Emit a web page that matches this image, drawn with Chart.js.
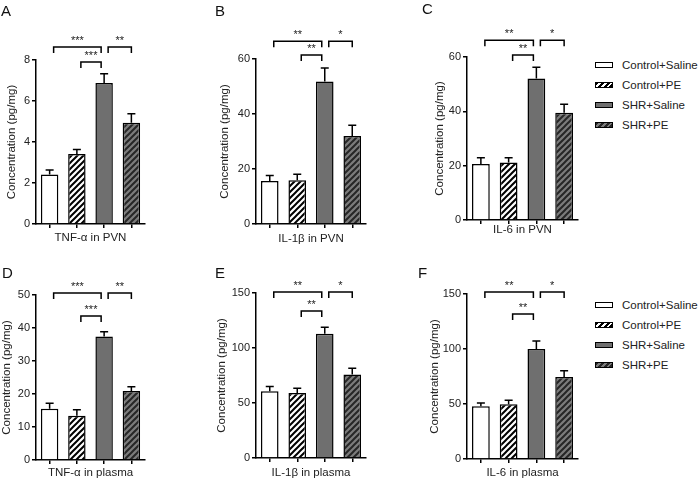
<!DOCTYPE html>
<html lang="en">
<head>
<meta charset="UTF-8">
<title>Cytokines in PVN and plasma</title>
<script src="https://cdn.jsdelivr.net/npm/chart.js"></script>
<style>
  body { margin: 0; background: #fff; font-family: 'Liberation Sans', Arial, sans-serif; }
  #wrap { position: relative; width: 700px; height: 481px; overflow: hidden; }
  #wrap canvas, .letter, .legend { position: absolute; }
  .letter { font-size: 15px; color: #111; line-height: 1; }
  .legend { font-size: 11.5px; color: #222; }
  .legend div { height: 20px; display: flex; align-items: center; }
  .legend .box { width: 18px; height: 6px; border: 1.5px solid #000; box-sizing: border-box; margin-right: 9px; }
</style>
</head>
<body>
<div id="wrap"></div>

<script>
// groups and values (mean, SEM)
const groups = ['Control+Saline', 'Control+PE', 'SHR+Saline', 'SHR+PE'];
const letters = ['A', 'B', 'C', 'D', 'E', 'F'];
const xTitles = ['TNF-α in PVN', 'IL-1β in PVN', 'IL-6 in PVN', 'TNF-α in plasma', 'IL-1β in plasma', 'IL-6 in plasma'];

const tnfPvn = [2.42, 3.41, 6.88, 4.94];
const tnfPvnSem = [0.21, 0.23, 0.45, 0.44];
const il1bPvn = [15.6, 15.9, 51.8, 32.0];
const il1bPvnSem = [2.0, 2.2, 4.9, 3.9];
const il6Pvn = [20.6, 21.2, 52.1, 39.5];
const il6PvnSem = [2.3, 1.7, 4.1, 3.1];
const tnfPlasma = [15.5, 13.4, 37.4, 20.9];
const tnfPlasmaSem = [1.7, 1.8, 1.5, 1.3];
const il1bPlasma = [60.6, 59.0, 113.0, 76.0];
const il1bPlasmaSem = [4.4, 4.3, 5.8, 5.5];
const il6Plasma = [47.9, 49.7, 100.0, 74.5];
const il6PlasmaSem = [3.0, 3.6, 7.3, 5.8];

const yMax = [8, 60, 60, 50, 150, 150];
const yStep = [2, 20, 20, 10, 50, 50];

// significance brackets: height (data units) and stars
const bracketHigh = [8.63, 66.5, 66.2, 50.6, 150.9, 151.8];
const bracketLow = [7.9, 61.5, 60.7, 43.6, 133.6, 131.8];
const starsVsControl = ['***', '**', '**', '***', '**', '**'];
const starsVsPE = ['**', '*', '*', '**', '*', '*'];

const means = [tnfPvn, il1bPvn, il6Pvn, tnfPlasma, il1bPlasma, il6Plasma];
const sems = [tnfPvnSem, il1bPvnSem, il6PvnSem, tnfPlasmaSem, il1bPlasmaSem, il6PlasmaSem];

// placement of each panel on the page
const boxes = [
  { titleX: 12, axisX: 36, right: 145, top: 60, bottom: 224, xTitleY: 238, cTop: 0 },
  { titleX: 225, axisX: 256, right: 366, top: 59, bottom: 224, xTitleY: 239, cTop: 0 },
  { titleX: 440, axisX: 467, right: 578, top: 57, bottom: 220, xTitleY: 230, cTop: 0 },
  { titleX: 7, axisX: 36, right: 145, top: 295, bottom: 460, xTitleY: 473, cTop: 248 },
  { titleX: 222, axisX: 256, right: 366, top: 293, bottom: 458, xTitleY: 473, cTop: 248 },
  { titleX: 435, axisX: 467, right: 578, top: 294, bottom: 459, xTitleY: 473, cTop: 248 }
];
const letterPos = [[1, 3], [215, 3], [422, 1], [2, 265], [215, 265], [418, 265]];

function hatch(bg, fg) {
  const c = document.createElement('canvas');
  c.width = c.height = 6;
  const g = c.getContext('2d');
  g.fillStyle = bg; g.fillRect(0, 0, 6, 6);
  g.strokeStyle = fg; g.lineWidth = 2;
  g.beginPath();
  g.moveTo(0, 6); g.lineTo(6, 0);
  g.moveTo(-1, 1); g.lineTo(1, -1);
  g.moveTo(5, 7); g.lineTo(7, 5);
  g.stroke();
  return g.createPattern(c, 'repeat');
}
const fills = ['#ffffff', hatch('#ffffff', '#000000'), '#6f6f6f', hatch('#7c7c7c', '#262626')];

// error bars (upper SEM only) and significance brackets
const annot = {
  id: 'annot',
  afterDatasetsDraw(chart, args, o) {
    const ctx = chart.ctx, x = chart.scales.x, y = chart.scales.y;
    ctx.save();
    ctx.strokeStyle = '#000';
    ctx.lineWidth = 1.5;
    o.mean.forEach((m, i) => {
      const cx = x.getPixelForValue(i);
      const y1 = y.getPixelForValue(m), y2 = y.getPixelForValue(m + o.sem[i]);
      ctx.beginPath();
      ctx.moveTo(cx, y1); ctx.lineTo(cx, y2);
      ctx.moveTo(cx - 4, y2); ctx.lineTo(cx + 4, y2);
      ctx.stroke();
    });
    ctx.fillStyle = '#222';
    ctx.font = '11px "Liberation Sans", Arial, sans-serif';
    ctx.textAlign = 'center';
    o.brackets.forEach(([i, j, h, label]) => {
      const x1 = x.getPixelForValue(i) + 4;
      const x2 = x.getPixelForValue(j) - (j === 2 ? 3 : 0);
      const yy = y.getPixelForValue(h);
      ctx.beginPath();
      ctx.moveTo(x1, yy + 6); ctx.lineTo(x1, yy); ctx.lineTo(x2, yy); ctx.lineTo(x2, yy + 6);
      ctx.stroke();
      ctx.fillText(label, (x1 + x2) / 2, yy - 3);
    });
    ctx.restore();
  }
};

const wrap = document.getElementById('wrap');

boxes.forEach((b, k) => {
  const cv = document.createElement('canvas');
  const left = b.titleX - 7;
  const height = b.xTitleY + 7 - b.cTop;
  const width = b.right - left + 10;
  cv.width = width; cv.height = height;
  cv.style.left = left + 'px'; cv.style.top = b.cTop + 'px';
  wrap.appendChild(cv);

  const axisGrid = { display: true, drawOnChartArea: false, drawTicks: true, tickLength: 4, color: '#000', lineWidth: 1.5 };

  new Chart(cv, {
    type: 'bar',
    data: {
      labels: groups,
      datasets: [{
        data: means[k],
        backgroundColor: fills,
        borderColor: '#000',
        borderWidth: 1.5,
        barPercentage: 0.64,
        categoryPercentage: 1.0
      }]
    },
    options: {
      responsive: false,
      animation: false,
      devicePixelRatio: 1,
      layout: { padding: { top: b.top - b.cTop, right: 10, left: 0, bottom: 0 } },
      plugins: {
        legend: { display: false },
        tooltip: { enabled: false },
        annot: {
          mean: means[k],
          sem: sems[k],
          brackets: [
            [0, 2, bracketHigh[k], starsVsControl[k]],
            [1, 2, bracketLow[k], starsVsControl[k]],
            [2, 3, bracketHigh[k], starsVsPE[k]]
          ]
        }
      },
      scales: {
        x: {
          grid: Object.assign({ offset: false }, axisGrid),
          border: { color: '#000', width: 1.5 },
          ticks: { display: false },
          title: {
            display: true, text: xTitles[k], color: '#222', padding: 0,
            font: { family: '"Liberation Sans", Arial, sans-serif', size: 11.5 }
          },
          afterFit(s) { s.height = b.xTitleY + 7 - b.bottom; }
        },
        y: {
          min: 0, max: yMax[k],
          grid: axisGrid,
          border: { color: '#000', width: 1.5 },
          ticks: {
            stepSize: yStep[k], color: '#222', padding: 2,
            font: { family: '"Liberation Sans", Arial, sans-serif', size: 11 }
          },
          title: {
            display: true, text: 'Concentration (pg/mg)', color: '#222', padding: 0,
            font: { family: '"Liberation Sans", Arial, sans-serif', size: 11.5 }
          },
          afterFit(s) { s.width = b.axisX - left; }
        }
      }
    },
    plugins: [annot]
  });

  const L = document.createElement('div');
  L.className = 'letter';
  L.textContent = letters[k];
  L.style.left = letterPos[k][0] + 'px';
  L.style.top = letterPos[k][1] + 'px';
  wrap.appendChild(L);
});

// legends beside panels C and F
const legendBg = [
  '#fff',
  'repeating-linear-gradient(135deg, #000 0 2px, #fff 2px 4px)',
  '#6f6f6f',
  'repeating-linear-gradient(135deg, #262626 0 2px, #7c7c7c 2px 4px)'
];
[55, 295].forEach(top => {
  const lg = document.createElement('div');
  lg.className = 'legend';
  lg.style.left = '595px';
  lg.style.top = top + 'px';
  groups.forEach((g, i) => {
    const row = document.createElement('div');
    const box = document.createElement('span');
    box.className = 'box';
    box.style.background = legendBg[i];
    row.appendChild(box);
    row.appendChild(document.createTextNode(g));
    lg.appendChild(row);
  });
  wrap.appendChild(lg);
});
</script>
</body>
</html>
